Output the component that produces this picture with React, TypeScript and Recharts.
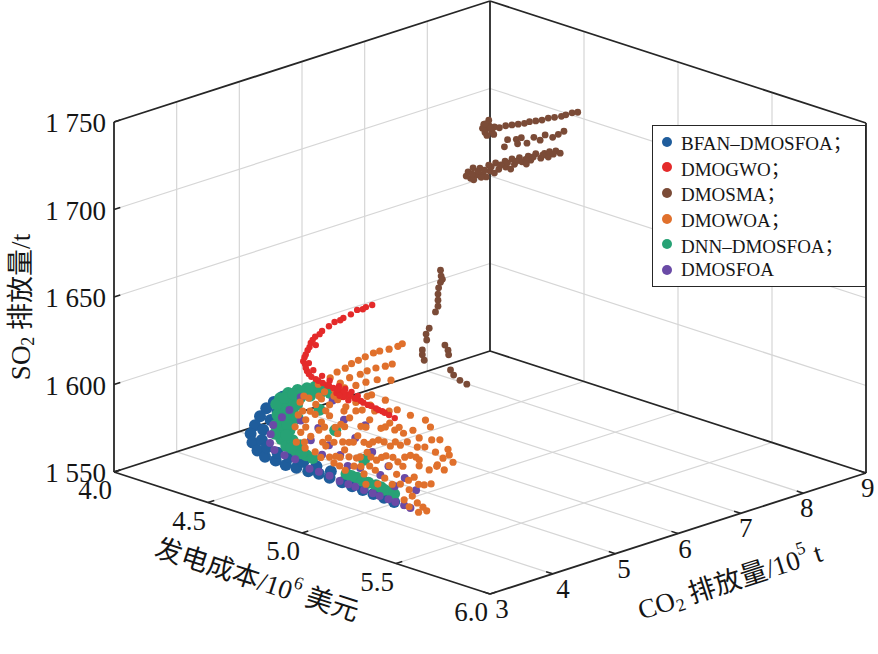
import React from "react";
import { ScatterChart, Scatter, XAxis, YAxis, Legend } from "recharts";

// [发电成本/10^6 美元, CO2 排放量/10^5 t, SO2 排放量/t]
type P3 = [number, number, number];

const COST_TICKS = [4.0, 4.5, 5.0, 5.5, 6.0];
const COST_LABELS = ["4.0", "4.5", "5.0", "5.5", "6.0"];
const CO2_TICKS = [3, 4, 5, 6, 7, 8, 9];
const CO2_LABELS = ["3", "4", "5", "6", "7", "8", "9"];
const SO2_TICKS = [1550, 1600, 1650, 1700, 1750];
const SO2_LABELS = ["1 550", "1 600", "1 650", "1 700", "1 750"];

const BFAN_DMOSFOA: P3[] = [
  [4.26, 4.91, 1580], [4.28, 4.71, 1580], [4.31, 4.5, 1580], [4.36, 4.25, 1580], [4.42, 3.99, 1580], [4.48, 3.74, 1580],
  [4.34, 4.19, 1565], [4.42, 4.03, 1565], [4.49, 3.94, 1565], [4.55, 3.93, 1565],
  [4.47, 4.33, 1555], [4.52, 4.35, 1555], [4.58, 4.36, 1555], [4.63, 4.38, 1555], [4.69, 4.37, 1555], [4.76, 4.36, 1555],
  [4.82, 4.34, 1555], [4.88, 4.33, 1555], [4.94, 4.32, 1555], [5.0, 4.31, 1555], [5.06, 4.29, 1555],
  [4.35, 4.73, 1580], [4.37, 4.5, 1580], [4.42, 4.24, 1580], [4.48, 3.94, 1580], [4.56, 3.68, 1580],
  [4.42, 4.18, 1565], [4.49, 4.14, 1565], [4.56, 4.12, 1565],
  [4.49, 4.55, 1555], [4.56, 4.55, 1555], [4.64, 4.54, 1555],
];

const DMOGWO: P3[] = [
  [4.03, 7.03, 1600], [4.03, 6.93, 1600], [4.05, 6.63, 1600], [4.06, 6.48, 1600], [4.07, 6.31, 1600], [4.09, 6.16, 1600],
  [4.11, 5.99, 1600], [4.14, 5.79, 1600], [4.18, 5.6, 1600], [4.23, 5.4, 1600], [4.28, 5.2, 1600], [4.34, 5.03, 1600],
  [4.4, 4.88, 1600], [4.46, 4.77, 1600], [4.51, 4.73, 1600], [4.57, 4.69, 1600], [4.61, 4.67, 1600], [4.65, 4.65, 1600],
  [4.7, 4.63, 1600], [4.75, 4.59, 1600], [4.79, 4.57, 1600], [4.84, 4.53, 1600], [4.89, 4.51, 1600], [4.93, 4.49, 1600],
  [4.98, 4.45, 1600], [4.34, 5.09, 1600], [4.41, 4.95, 1600], [4.48, 4.88, 1600], [4.54, 4.82, 1600], [4.61, 4.76, 1600],
  [4.65, 4.74, 1600], [4.69, 4.72, 1600], [4.71, 4.53, 1600], [4.66, 4.57, 1600], [4.74, 4.67, 1600], [5.02, 4.42, 1600],
  [4.03, 6.79, 1600], [4.21, 5.59, 1600],
  [4.26, 5.28, 1600], [4.31, 5.09, 1600], [4.37, 4.95, 1600], [4.43, 4.82, 1600], [4.49, 4.75, 1600], [4.54, 4.71, 1600],
  [4.58, 4.69, 1600], [4.63, 4.68, 1600], [4.67, 4.66, 1600], [4.71, 4.63, 1600], [4.76, 4.59, 1600], [4.81, 4.55, 1600],
  [4.86, 4.53, 1600], [4.91, 4.49, 1600], [4.95, 4.47, 1600], [4.75, 4.49, 1600], [4.69, 4.53, 1600], [4.16, 5.69, 1600],
  [4.13, 5.89, 1600], [4.21, 5.49, 1600], [4.07, 6.4, 1600], [4.04, 6.85, 1600],
];

const DMOSMA: P3[] = [
  [4.71, 6.77, 1730], [4.75, 6.7, 1730], [4.78, 6.58, 1730], [4.73, 6.79, 1730], [4.79, 6.66, 1730], [4.76, 6.79, 1730],
  [4.78, 6.81, 1730], [4.78, 6.91, 1730], [4.79, 6.98, 1730], [4.8, 7.05, 1730], [4.81, 7.12, 1730], [4.81, 7.2, 1730],
  [4.82, 7.27, 1730], [4.83, 7.34, 1730], [4.83, 7.44, 1730], [4.84, 7.51, 1730], [4.85, 7.59, 1730], [4.85, 7.66, 1730],
  [4.85, 7.76, 1730], [4.86, 7.82, 1730], [4.69, 6.91, 1730], [4.81, 6.52, 1730],
  [4.74, 6.66, 1730], [4.76, 6.73, 1730], [4.71, 6.79, 1730], [4.82, 6.6, 1730],
  [4.95, 6.38, 1730], [4.9, 6.58, 1730], [4.92, 6.66, 1730], [4.96, 6.56, 1730], [4.92, 6.74, 1730], [4.98, 6.65, 1730],
  [4.95, 6.85, 1730], [4.99, 6.83, 1730], [4.96, 7.0, 1730], [5.0, 7.0, 1730], [4.99, 7.12, 1730], [4.98, 7.24, 1730],
  [4.7, 6.55, 1705], [4.76, 6.41, 1705], [4.68, 6.69, 1705], [4.75, 6.54, 1705], [4.7, 6.74, 1705], [4.76, 6.61, 1705],
  [4.7, 6.88, 1705], [4.75, 6.75, 1705], [4.7, 6.99, 1705], [4.76, 6.86, 1705], [4.71, 7.11, 1705], [4.76, 6.97, 1705],
  [4.71, 7.22, 1705], [4.76, 7.11, 1705], [4.72, 7.31, 1705], [4.76, 7.23, 1705], [4.73, 7.42, 1705], [4.77, 7.34, 1705],
  [4.73, 7.54, 1705], [4.78, 7.47, 1705], [4.75, 7.62, 1705], [4.79, 7.56, 1705], [4.75, 7.7, 1705], [4.76, 7.77, 1705],
  [4.79, 7.75, 1705], [4.78, 6.4, 1705], [4.79, 6.57, 1705],
  [4.73, 6.53, 1705], [4.72, 6.65, 1705], [4.73, 6.72, 1705], [4.72, 6.86, 1705], [4.73, 6.98, 1705], [4.73, 7.09, 1705],
  [4.74, 7.2, 1705], [4.75, 7.32, 1705], [4.75, 7.44, 1705], [4.76, 7.56, 1705], [4.78, 7.67, 1705], [4.73, 6.43, 1705],
  [4.78, 6.52, 1705], [4.78, 6.73, 1705], [4.79, 6.96, 1705], [4.79, 7.21, 1705],
  [4.5, 6.71, 1640], [4.55, 6.57, 1640], [4.6, 6.41, 1640], [4.64, 6.26, 1640], [4.69, 6.1, 1640], [4.74, 5.95, 1640],
  [4.79, 5.8, 1640], [4.83, 5.64, 1640], [4.58, 6.5, 1640],
  [4.66, 6.05, 1620], [4.7, 5.88, 1620], [4.82, 5.46, 1620], [4.86, 5.34, 1620], [4.91, 5.22, 1620], [4.84, 5.76, 1620],
  [4.89, 5.66, 1620], [4.93, 5.55, 1620], [5.06, 5.19, 1620], [5.11, 5.09, 1620], [5.17, 5.01, 1620], [5.22, 4.97, 1620],
  [4.75, 5.74, 1620],
];

const DMOWOA: P3[] = [
  [4.23, 5.76, 1580], [4.2, 5.96, 1580], [4.19, 6.12, 1580], [4.17, 6.28, 1580], [4.16, 6.42, 1580], [4.15, 6.56, 1580],
  [4.14, 6.72, 1580], [4.14, 6.82, 1580], [4.15, 6.94, 1580], [4.15, 7.08, 1580], [4.14, 7.18, 1580],
  [4.3, 5.71, 1580], [4.28, 5.92, 1580], [4.28, 6.09, 1580], [4.27, 6.23, 1580], [4.27, 6.37, 1580], [4.28, 6.49, 1580],
  [4.28, 6.6, 1580], [4.34, 5.5, 1580], [4.35, 5.63, 1580], [4.36, 5.78, 1580], [4.36, 5.94, 1580], [4.37, 6.09, 1580],
  [4.41, 6.19, 1580], [4.25, 5.51, 1580], [4.33, 5.37, 1580],
  [4.35, 4.92, 1580], [4.34, 5.09, 1580], [4.41, 4.99, 1580], [4.38, 5.17, 1580], [4.45, 5.09, 1580], [4.43, 5.28, 1580],
  [4.51, 5.17, 1580], [4.5, 5.36, 1580], [4.58, 5.22, 1580], [4.56, 5.41, 1580],
  [4.45, 4.59, 1580], [4.51, 4.53, 1580], [4.49, 4.74, 1580], [4.57, 4.6, 1580], [4.54, 4.82, 1580], [4.64, 4.7, 1580],
  [4.61, 4.93, 1580], [4.71, 4.81, 1580], [4.68, 5.04, 1580], [4.78, 4.92, 1580],
  [4.6, 4.18, 1580], [4.66, 4.16, 1580], [4.63, 4.38, 1580], [4.72, 4.26, 1580], [4.71, 4.44, 1580], [4.81, 4.32, 1580],
  [4.78, 4.55, 1580], [4.88, 4.43, 1580], [4.87, 4.61, 1580], [4.95, 4.56, 1580],
  [4.74, 3.83, 1580], [4.8, 3.81, 1580], [4.78, 4.04, 1580], [4.89, 3.87, 1580], [4.86, 4.1, 1580], [4.96, 3.99, 1580],
  [4.94, 4.22, 1580], [5.03, 4.1, 1580], [5.02, 4.28, 1580], [5.1, 4.23, 1580],
  [4.94, 3.69, 1580], [5.03, 3.6, 1580], [5.02, 3.77, 1580], [5.11, 3.66, 1580], [5.11, 3.84, 1580], [5.2, 3.72, 1580],
  [5.2, 3.91, 1580], [5.28, 3.86, 1580],
  [4.76, 5.12, 1580], [4.88, 4.98, 1580], [5.03, 4.75, 1580], [4.9, 5.35, 1580], [5.03, 5.11, 1580], [5.13, 4.94, 1580],
  [5.19, 4.68, 1580], [5.25, 4.28, 1580], [5.27, 3.98, 1580], [5.14, 4.45, 1580], [5.12, 4.77, 1580], [5.25, 4.66, 1580],
  [5.29, 4.4, 1580], [5.36, 3.87, 1580], [5.36, 3.63, 1580], [4.97, 4.66, 1580], [4.88, 5.13, 1580], [4.96, 4.99, 1580],
  [4.48, 5.67, 1580], [4.56, 5.65, 1580], [4.67, 5.51, 1580], [4.75, 5.48, 1580], [4.83, 5.48, 1580],
  [5.43, 3.34, 1580], [5.42, 3.5, 1580], [5.49, 3.37, 1580], [5.54, 3.31, 1580], [5.58, 3.25, 1580], [5.57, 3.15, 1580],
  [5.5, 3.21, 1580],
  [4.31, 5.1, 1580], [4.35, 5.22, 1580], [4.39, 5.34, 1580], [4.43, 5.47, 1580], [4.48, 5.6, 1580],
  [4.43, 4.72, 1580], [4.45, 4.78, 1580], [4.49, 4.91, 1580], [4.54, 5.05, 1580], [4.57, 5.15, 1580], [4.62, 5.3, 1580],
  [4.66, 5.41, 1580],
  [4.54, 4.27, 1580], [4.57, 4.35, 1580], [4.62, 4.5, 1580], [4.65, 4.58, 1580], [4.67, 4.67, 1580], [4.73, 4.83, 1580],
  [4.78, 4.99, 1580], [4.82, 5.09, 1580],
  [4.67, 3.9, 1580], [4.69, 3.97, 1580], [4.74, 4.11, 1580], [4.77, 4.2, 1580], [4.79, 4.28, 1580], [4.82, 4.36, 1580],
  [4.85, 4.44, 1580], [4.87, 4.52, 1580], [4.9, 4.61, 1580], [4.93, 4.7, 1580], [4.96, 4.8, 1580],
  [4.86, 3.72, 1580], [4.88, 3.8, 1580], [4.91, 3.88, 1580], [4.93, 3.96, 1580], [4.96, 4.05, 1580], [4.99, 4.13, 1580],
  [5.02, 4.21, 1580], [5.05, 4.3, 1580], [5.08, 4.4, 1580], [5.11, 4.49, 1580],
  [4.98, 3.66, 1580], [5.04, 3.82, 1580], [5.06, 3.9, 1580], [5.11, 4.06, 1580], [5.15, 4.16, 1580], [5.19, 4.3, 1580],
  [5.24, 4.43, 1580],
  [5.2, 3.42, 1580], [5.23, 3.52, 1580], [5.27, 3.63, 1580], [5.29, 3.7, 1580], [5.34, 3.84, 1580], [5.37, 3.95, 1580],
  [5.05, 4.81, 1580], [5.23, 4.47, 1580], [5.18, 4.81, 1580], [5.01, 5.04, 1580], [5.08, 4.49, 1580], [4.83, 4.99, 1580],
];

const DNN_DMOSFOA: P3[] = [
  [4.12, 5.29, 1570], [4.1, 5.48, 1570], [4.1, 5.63, 1570], [4.11, 5.75, 1570], [4.12, 5.85, 1570], [4.15, 5.89, 1570],
  [4.19, 5.12, 1570], [4.18, 5.31, 1570], [4.17, 5.46, 1570], [4.18, 5.59, 1570],
  [4.25, 4.99, 1570], [4.31, 4.73, 1570], [4.38, 4.49, 1570], [4.46, 4.29, 1570], [4.53, 4.16, 1570], [4.6, 4.11, 1570],
  [4.66, 4.09, 1570], [4.25, 5.1, 1570], [4.33, 4.83, 1570], [4.41, 4.57, 1570], [4.5, 4.35, 1570],
  [4.92, 3.95, 1570], [4.98, 3.94, 1570], [5.05, 3.91, 1570], [5.12, 3.9, 1570], [5.18, 3.88, 1570],
  [4.32, 5.32, 1570], [4.53, 4.94, 1570], [4.56, 4.29, 1570], [4.85, 4.44, 1570],
  [4.16, 5.11, 1570], [4.13, 5.33, 1570], [4.12, 5.5, 1570], [4.13, 5.62, 1570], [4.14, 5.71, 1570], [4.18, 5.76, 1570],
  [4.21, 5.82, 1570], [4.25, 4.86, 1570], [4.33, 4.59, 1570], [4.4, 4.37, 1570], [4.36, 4.69, 1570], [4.44, 4.43, 1570],
  [4.56, 4.15, 1570], [4.63, 4.1, 1570], [4.7, 4.07, 1570], [4.22, 5.26, 1570], [4.33, 4.94, 1570],
  [4.95, 3.94, 1570], [5.02, 3.91, 1570], [5.09, 3.91, 1570], [5.15, 3.86, 1570], [5.21, 3.84, 1570],
];

const DMOSFOA: P3[] = [
  [4.17, 5.29, 1565], [4.21, 5.05, 1565], [4.25, 4.79, 1565], [4.32, 4.54, 1565], [4.39, 4.32, 1565], [4.46, 4.18, 1565],
  [4.53, 4.13, 1565], [4.59, 4.12, 1565],
  [4.52, 4.56, 1552], [4.57, 4.56, 1552], [4.63, 4.55, 1552], [4.7, 4.5, 1552], [4.75, 4.49, 1552], [4.79, 4.48, 1552],
  [4.84, 4.47, 1552], [4.89, 4.46, 1552], [4.93, 4.45, 1552], [4.98, 4.44, 1552], [5.02, 4.43, 1552], [5.07, 4.42, 1552],
  [5.11, 4.4, 1552],
  [4.43, 4.69, 1575], [4.54, 4.64, 1575], [4.62, 4.28, 1575], [4.71, 4.3, 1575], [4.82, 4.15, 1575], [4.72, 4.69, 1575],
  [4.88, 4.48, 1575], [5.04, 4.26, 1575], [5.18, 4.1, 1575], [5.09, 3.98, 1575], [4.93, 3.94, 1575], [4.77, 4.01, 1575],
  [4.98, 3.99, 1575], [5.22, 3.82, 1575], [5.31, 3.89, 1575], [4.24, 5.26, 1575], [4.35, 5.44, 1575], [4.54, 5.05, 1575],
  [4.64, 5.09, 1575],
];

const BLUE = "#1f5d9c";
const RED = "#e42a2a";
const BROWN = "#7b4b37";
const ORANGE = "#e0702c";
const GREEN = "#27a275";
const PURPLE = "#6a4aa6";

const LEGEND = [
  { name: "BFAN–DMOSFOA；", color: BLUE },
  { name: "DMOGWO；", color: RED },
  { name: "DMOSMA；", color: BROWN },
  { name: "DMOWOA；", color: ORANGE },
  { name: "DNN–DMOSFOA；", color: GREEN },
  { name: "DMOSFOA", color: PURPLE },
];

const W = 878;
const H = 654;
const SERIF = "'Liberation Serif', 'Times New Roman', serif, 'Noto Sans CJK SC'";
const INK = "#151515";
const EDGE = "#262626";
const GRID = "#d6d6d6";

// fixed orthographic view of the box
function proj(c: number, e: number, s: number) {
  const u = (c - 4) / 2;
  const v = (e - 3) / 6;
  const w = (s - 1550) / 200;
  return { x: 114 + u * 376 + v * 376, y: 472 + u * 122 - v * 121 - w * 350 };
}

const pts = (arr: P3[]) => arr.map(([c, e, s]) => proj(c, e, s));

const gridSegs: [P3, P3][] = [];
COST_TICKS.slice(1, -1).forEach((c) => gridSegs.push([[c, 3, 1550], [c, 9, 1550]]));
CO2_TICKS.slice(1, -1).forEach((e) => gridSegs.push([[4, e, 1550], [6, e, 1550]]));
CO2_TICKS.slice(1, -1).forEach((e) => gridSegs.push([[4, e, 1550], [4, e, 1750]]));
SO2_TICKS.slice(1, -1).forEach((s) => gridSegs.push([[4, 3, s], [4, 9, s]]));
COST_TICKS.slice(1, -1).forEach((c) => gridSegs.push([[c, 9, 1550], [c, 9, 1750]]));
SO2_TICKS.slice(1, -1).forEach((s) => gridSegs.push([[4, 9, s], [6, 9, s]]));

const boxSegs: [P3, P3][] = [
  [[4, 3, 1550], [6, 3, 1550]],
  [[6, 3, 1550], [6, 9, 1550]],
  [[4, 3, 1550], [4, 9, 1550]],
  [[4, 9, 1550], [6, 9, 1550]],
  [[4, 3, 1550], [4, 3, 1750]],
  [[4, 9, 1550], [4, 9, 1750]],
  [[6, 9, 1550], [6, 9, 1750]],
  [[4, 3, 1750], [4, 9, 1750]],
  [[4, 9, 1750], [6, 9, 1750]],
];

const tickSegs: [P3, P3][] = [
  ...COST_TICKS.map((c) => [[c, 3, 1550], [c, 3.1, 1550]] as [P3, P3]),
  ...CO2_TICKS.map((e) => [[6, e, 1550], [5.965, e, 1550]] as [P3, P3]),
  ...SO2_TICKS.map((s) => [[4, 3, s], [4, 3.1, s]] as [P3, P3]),
];

const costLabels = COST_TICKS.map((c, i) => {
  const p = proj(c, 3, 1550);
  return { x: p.x - 19, y: p.y + 18, label: COST_LABELS[i] };
});
const co2Labels = CO2_TICKS.map((e, i) => {
  const p = proj(6, e, 1550);
  return { x: p.x + 12 - 1.7 * i, y: p.y + 15, label: CO2_LABELS[i] };
});
const so2Labels = SO2_TICKS.map((s, i) => {
  const p = proj(4, 3, s);
  return { x: p.x - 8, y: p.y + 1, label: SO2_LABELS[i] };
});

const costMid = proj(5, 3, 1550);
const co2Mid = proj(6, 6, 1550);
const so2Mid = proj(4, 3, 1650);

const noMark = () => <g />;

const dot = (r: number, fill: string) => (p: any) => <circle cx={p.cx} cy={p.cy} r={r} fill={fill} />;

const tickText = (anchor: string) => (p: any) => (
  <text x={p.cx} y={p.cy} textAnchor={anchor} dominantBaseline="central" fontSize={27} fontFamily={SERIF} fill={INK}>
    {p.payload.label}
  </text>
);

function LegendBox() {
  return (
    <div
      style={{
        width: 214,
        height: 162,
        boxSizing: "border-box",
        border: `1.5px solid ${EDGE}`,
        background: "#fff",
        paddingTop: 3,
        fontFamily: SERIF,
        fontSize: 19,
        color: INK,
      }}
    >
      {LEGEND.map((d) => (
        <div key={d.name} style={{ display: "flex", alignItems: "center", height: 25.6, whiteSpace: "nowrap" }}>
          <span
            style={{
              display: "inline-block",
              width: 10,
              height: 10,
              borderRadius: "50%",
              background: d.color,
              marginLeft: 9,
              marginRight: 9,
            }}
          />
          <span>{d.name}</span>
        </div>
      ))}
    </div>
  );
}

export default function App() {
  const line = (key: string, [a, b]: [P3, P3], stroke: string, width: number) => (
    <Scatter
      key={key}
      data={[proj(...a), proj(...b)]}
      line={{ stroke, strokeWidth: width }}
      shape={noMark}
      isAnimationActive={false}
      legendType="none"
    />
  );

  return (
    <div style={{ position: "absolute", left: 0, top: 0, background: "#fff", fontFamily: SERIF }}>
      <ScatterChart width={W} height={H} margin={{ top: 0, right: 0, bottom: 0, left: 0 }}>
        <XAxis type="number" dataKey="x" domain={[0, W]} hide />
        <YAxis type="number" dataKey="y" domain={[0, H]} reversed hide />
        <Legend
          layout="horizontal"
          verticalAlign="middle"
          align="center"
          wrapperStyle={{ left: 652, top: 125, width: 214, height: 162 }}
          content={() => <LegendBox />}
        />

        {gridSegs.map((s, i) => line(`g${i}`, s, GRID, 1.2))}
        {boxSegs.map((s, i) => line(`b${i}`, s, EDGE, 1.8))}
        {tickSegs.map((s, i) => line(`t${i}`, s, EDGE, 1.5))}

        <Scatter name="BFAN–DMOSFOA" data={pts(BFAN_DMOSFOA)} shape={dot(6, BLUE)} isAnimationActive={false} />
        <Scatter name="DNN–DMOSFOA" data={pts(DNN_DMOSFOA)} shape={dot(6, GREEN)} isAnimationActive={false} />
        <Scatter name="DMOSFOA" data={pts(DMOSFOA)} shape={dot(4, PURPLE)} isAnimationActive={false} />
        <Scatter name="DMOWOA" data={pts(DMOWOA)} shape={dot(3.6, ORANGE)} isAnimationActive={false} />
        <Scatter name="DMOGWO" data={pts(DMOGWO)} shape={dot(3.2, RED)} isAnimationActive={false} />
        <Scatter name="DMOSMA" data={pts(DMOSMA)} shape={dot(3.4, BROWN)} isAnimationActive={false} />

        <Scatter data={costLabels} shape={tickText("middle")} isAnimationActive={false} legendType="none" />
        <Scatter data={co2Labels} shape={tickText("middle")} isAnimationActive={false} legendType="none" />
        <Scatter data={so2Labels} shape={tickText("end")} isAnimationActive={false} legendType="none" />

        <Scatter
          data={[{ x: costMid.x - 45, y: costMid.y + 47 }]}
          isAnimationActive={false}
          legendType="none"
          shape={(p: any) => (
            <text
              transform={`translate(${p.cx},${p.cy}) rotate(18)`}
              textAnchor="middle"
              dominantBaseline="central"
              fontSize={27}
              fontFamily={SERIF}
              fill={INK}
            >
              发电成本/10<tspan fontSize={18} dy={-10}>6</tspan>
              <tspan dy={10}> 美元</tspan>
            </text>
          )}
        />
        <Scatter
          data={[{ x: co2Mid.x + 52, y: co2Mid.y + 48 }]}
          isAnimationActive={false}
          legendType="none"
          shape={(p: any) => (
            <text
              transform={`translate(${p.cx},${p.cy}) rotate(-18)`}
              textAnchor="middle"
              dominantBaseline="central"
              fontSize={27}
              fontFamily={SERIF}
              fill={INK}
            >
              CO<tspan fontSize={18} dy={7}>2</tspan>
              <tspan dy={-7}> 排放量/10</tspan>
              <tspan fontSize={18} dy={-10}>5</tspan>
              <tspan dy={10}> t</tspan>
            </text>
          )}
        />
        <Scatter
          data={[{ x: so2Mid.x - 93, y: so2Mid.y + 10 }]}
          isAnimationActive={false}
          legendType="none"
          shape={(p: any) => (
            <text
              transform={`translate(${p.cx},${p.cy}) rotate(-90)`}
              textAnchor="middle"
              dominantBaseline="central"
              fontSize={27}
              fontFamily={SERIF}
              fill={INK}
            >
              SO<tspan fontSize={18} dy={7}>2</tspan>
              <tspan dy={-7}> 排放量/t</tspan>
            </text>
          )}
        />
      </ScatterChart>
    </div>
  );
}
